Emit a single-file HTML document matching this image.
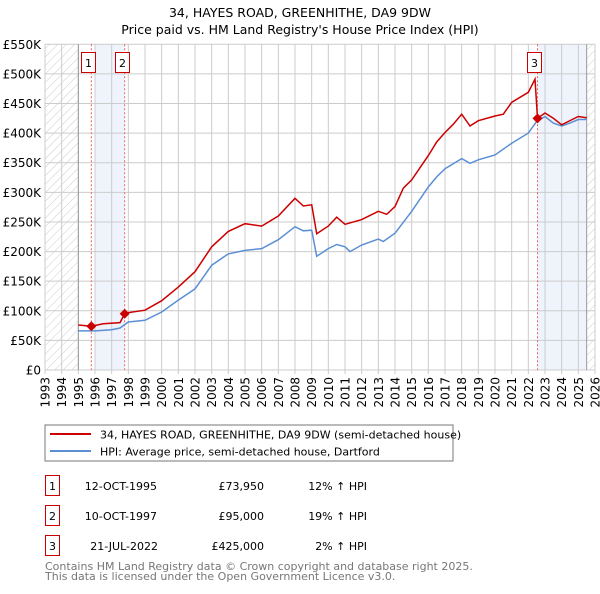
<!DOCTYPE html>
<html><head><meta charset="utf-8"><style>
body{margin:0;background:#fff;font-family:"DejaVu Sans","Liberation Sans",sans-serif;}
svg text{font-family:"DejaVu Sans","Liberation Sans",sans-serif;}
</style></head><body>
<svg id="c" width="600" height="590" xmlns="http://www.w3.org/2000/svg">
<defs><pattern id="hatch" width="6" height="6" patternUnits="userSpaceOnUse" patternTransform="rotate(45)"><line x1="0" y1="0" x2="0" y2="6" stroke="#ccc" stroke-width="1"/></pattern></defs>
<text x="300" y="17" text-anchor="middle" font-size="12.5">34, HAYES ROAD, GREENHITHE, DA9 9DW</text>
<text x="300" y="34" text-anchor="middle" font-size="12.5">Price paid vs. HM Land Registry's House Price Index (HPI)</text>
<g id="plot"></g>
<rect x="45" y="425" width="408" height="36" fill="#fff" stroke="#777"/>
<line x1="50" y1="434" x2="91" y2="434" stroke="#cc0000" stroke-width="2"/>
<text x="100" y="438.5" font-size="11">34, HAYES ROAD, GREENHITHE, DA9 9DW (semi-detached house)</text>
<line x1="50" y1="451" x2="91" y2="451" stroke="#5b8fd4" stroke-width="2"/>
<text x="100" y="455.5" font-size="11">HPI: Average price, semi-detached house, Dartford</text>
<g font-size="11">
<rect x="45.5" y="475.5" width="14" height="20" fill="none" stroke="#cc0000"/><text x="52.5" y="490" text-anchor="middle">1</text>
<text x="157" y="490" text-anchor="end">12-OCT-1995</text><text x="264" y="490" text-anchor="end">£73,950</text><text x="367" y="490" text-anchor="end">12% ↑ HPI</text>
<rect x="45.5" y="505.5" width="14" height="20" fill="none" stroke="#cc0000"/><text x="52.5" y="520" text-anchor="middle">2</text>
<text x="157" y="520" text-anchor="end">10-OCT-1997</text><text x="264" y="520" text-anchor="end">£95,000</text><text x="367" y="520" text-anchor="end">19% ↑ HPI</text>
<rect x="45.5" y="535.5" width="14" height="20" fill="none" stroke="#cc0000"/><text x="52.5" y="550" text-anchor="middle">3</text>
<text x="158" y="550" text-anchor="end">21-JUL-2022</text><text x="264" y="550" text-anchor="end">£425,000</text><text x="367" y="550" text-anchor="end">2% ↑ HPI</text>
</g>
<text x="45" y="570" font-size="11" fill="#777">Contains HM Land Registry data © Crown copyright and database right 2025.</text>
<text x="45" y="580" font-size="11" fill="#777">This data is licensed under the Open Government Licence v3.0.</text>
</svg>
<script>
const yearTicks=[1993,1994,1995,1996,1997,1998,1999,2000,2001,2002,2003,2004,2005,2006,2007,2008,2009,2010,2011,2012,2013,2014,2015,2016,2017,2018,2019,2020,2021,2022,2023,2024,2025,2026];
const priceTicks=[0,50000,100000,150000,200000,250000,300000,350000,400000,450000,500000,550000];
const priceTickLabels=["£0","£50K","£100K","£150K","£200K","£250K","£300K","£350K","£400K","£450K","£500K","£550K"];
const hpiYears=[1995,1996,1997,1997.5,1998,1999,2000,2001,2002,2003,2004,2005,2006,2007,2008,2008.5,2009,2009.3,2010,2010.5,2011,2011.3,2012,2013,2013.3,2014,2015,2016,2016.5,2017,2018,2018.5,2019,2020,2021,2022,2022.5,2023,2023.5,2024,2024.5,2025,2025.5];
const hpiValues=[66000,66000,68000,71000,81000,84000,98000,118000,137000,177000,196000,202000,205000,220000,242000,235000,236000,192000,205000,212000,208000,200000,211000,221000,217000,231000,268000,309000,326000,340000,357000,349000,355000,363000,383000,400000,420000,428000,417000,412000,417000,423000,423000];
const priceYears=[1995,1995.78,1996.5,1997.5,1997.78,1998,1999,2000,2001,2002,2003,2004,2005,2006,2007,2008,2008.5,2009,2009.3,2010,2010.5,2011,2012,2013,2013.5,2014,2014.5,2015,2016,2016.5,2017,2017.5,2018,2018.5,2019,2020,2020.5,2021,2022,2022.4,2022.55,2023,2023.5,2024,2025,2025.5];
const priceValues=[76000,74000,78000,80000,95000,97000,101000,117000,140000,166000,208000,234000,247000,243000,260000,290000,277000,279000,230000,243000,258000,246000,254000,268000,263000,276000,307000,321000,362000,385000,401000,415000,432000,412000,421000,429000,432000,452000,469000,491000,425000,434000,425000,414000,428000,426000];
const saleYears=[1995.78,1997.78,2022.55];
const saleValues=[73950,95000,425000];
const saleLabels=["1","2","3"];

const NS="http://www.w3.org/2000/svg";
const X0=45,X1=595,Y0=370,Y1=44.3;
const xs=y=>X0+(y-1993)/(2026-1993)*(X1-X0);
const ys=v=>Y0-v/550000*(Y0-Y1);
const g=document.getElementById('plot');
function el(t,a){const e=document.createElementNS(NS,t);for(const k in a)e.setAttribute(k,a[k]);g.appendChild(e);return e;}

let e;
e=el('rect',{x:xs(1996),y:Y1,width:xs(1997.78)-xs(1996),height:Y0-Y1,fill:'#eef3fc'});


e=el('rect',{x:xs(2022.55),y:Y1,width:xs(2025.5)-xs(2022.55),height:Y0-Y1,fill:'#eef3fc'});


e=el('rect',{x:X0,y:Y1,width:xs(1995)-X0,height:Y0-Y1,fill:'url(#hatch)'});


e=el('rect',{x:xs(2025.5),y:Y1,width:X1-xs(2025.5),height:Y0-Y1,fill:'url(#hatch)'});



yearTicks.forEach(yr=>{
  e=el('line',{x1:xs(yr),x2:xs(yr),y1:Y1,y2:Y0+4,stroke:'#ccc','stroke-width':1});
  
  
  const t=el('text',{x:0,y:0,'font-size':12,'text-anchor':'end',transform:`translate(${xs(yr)+4.5},${Y0+7}) rotate(-90)`});
  t.textContent=yr;
  
  
});
priceTicks.forEach((v,i)=>{
  e=el('line',{x1:X0,x2:X1,y1:ys(v),y2:ys(v),stroke:'#ccc','stroke-width':1});
  
  
  const t=el('text',{x:41,y:ys(v)+4.5,'font-size':12,'text-anchor':'end'});
  t.textContent=priceTickLabels[i];
  
  
});
e=el('line',{x1:xs(1995),x2:xs(1995),y1:Y1,y2:Y0,stroke:'#999'});


e=el('line',{x1:xs(2025.5),x2:xs(2025.5),y1:Y1,y2:Y0,stroke:'#999'});



saleYears.forEach((yr,i)=>{
  e=el('line',{x1:xs(yr),x2:xs(yr),y1:Y1,y2:Y0,stroke:'#f06060','stroke-dasharray':'2,2'});
  
  
});

e=el('path',{d:hpiYears.map((y,i)=>(i?'L':'M')+xs(y).toFixed(1)+','+ys(hpiValues[i]).toFixed(1)).join(''),fill:'none',stroke:'#5b8fd4','stroke-width':1.5});


e=el('path',{d:priceYears.map((y,i)=>(i?'L':'M')+xs(y).toFixed(1)+','+ys(priceValues[i]).toFixed(1)).join(''),fill:'none',stroke:'#cc0000','stroke-width':1.5});



saleYears.forEach((yr,i)=>{
  const x=xs(yr),y=ys(saleValues[i]);
  e=el('path',{d:`M${x},${y-5}L${x+5},${y}L${x},${y+5}L${x-5},${y}Z`,fill:'#cc0000'});
  
  
  const bx=Math.round(x-3-7);
  e=el('rect',{x:bx+0.5,y:52.5,width:14,height:20,fill:'#fff',stroke:'#cc0000'});
  
  
  const t=el('text',{x:bx+7.5,y:67,'font-size':11,'text-anchor':'middle'});
  t.textContent=saleLabels[i];
  
  
});
</script>
</body></html>
